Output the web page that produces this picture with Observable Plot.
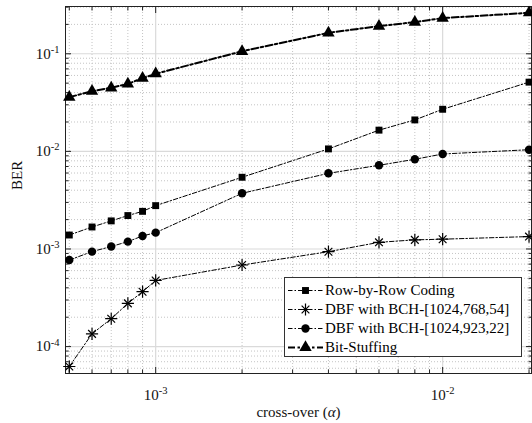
<!DOCTYPE html>
<html><head><meta charset="utf-8">
<script src="https://cdn.jsdelivr.net/npm/d3@7"></script>
<script src="https://cdn.jsdelivr.net/npm/@observablehq/plot@0.6"></script>
<style>
body{margin:0;background:#fff;}
#wrap{position:relative;width:532px;height:423px;font-family:"Liberation Serif","Times New Roman",serif;}
#legend{position:absolute;left:284px;top:277px;width:238px;height:80px;border:1px solid #333;background:#fff;box-sizing:border-box;padding-top:3px;}
.row{display:flex;align-items:center;height:19px;font-size:15px;color:#000;white-space:nowrap;}
.row svg{flex:none;}
</style></head><body><div id="wrap"></div>
<script>
// Data
const alpha = [5e-4, 6e-4, 7e-4, 8e-4, 9e-4, 1e-3, 2e-3, 4e-3, 6e-3, 8e-3, 1e-2, 2e-2];
const rowByRow = [1.39e-3, 1.68e-3, 1.94e-3, 2.2e-3, 2.43e-3, 2.78e-3, 5.43e-3, 1.06e-2, 1.65e-2, 2.1e-2, 2.7e-2, 5.12e-2];
const dbf768 = [6.25e-5, 1.35e-4, 1.93e-4, 2.77e-4, 3.65e-4, 4.76e-4, 6.85e-4, 9.38e-4, 1.17e-3, 1.24e-3, 1.26e-3, 1.34e-3];
const dbf923 = [7.7e-4, 9.4e-4, 1.06e-3, 1.19e-3, 1.36e-3, 1.47e-3, 3.72e-3, 5.96e-3, 7.2e-3, 8.3e-3, 9.4e-3, 1.04e-2];
const bitStuffing = [0.0359, 0.0414, 0.0448, 0.0492, 0.0562, 0.0624, 0.106, 0.164, 0.192, 0.211, 0.232, 0.263];
const seriesNames = ["Row-by-Row Coding", "DBF with BCH-[1024,768,54]", "DBF with BCH-[1024,923,22]", "Bit-Stuffing"];
const xMajor = [1e-3, 1e-2];
const yMajor = [1e-4, 1e-3, 1e-2, 1e-1];
const xMinor = [5e-4, 6e-4, 7e-4, 8e-4, 9e-4, 2e-3, 3e-3, 4e-3, 5e-3, 6e-3, 7e-3, 8e-3, 9e-3, 2e-2];
const yMinor = [6e-5, 7e-5, 8e-5, 9e-5, 2e-4, 3e-4, 4e-4, 5e-4, 6e-4, 7e-4, 8e-4, 9e-4,
  2e-3, 3e-3, 4e-3, 5e-3, 6e-3, 7e-3, 8e-3, 9e-3, 2e-2, 3e-2, 4e-2, 5e-2, 6e-2, 7e-2, 8e-2, 9e-2, 2e-1, 3e-1];

const toRows = (vals) => alpha.map((a, i) => ({a, v: vals[i]}));
const rRow = toRows(rowByRow), r768 = toRows(dbf768), r923 = toRows(dbf923), rBit = toRows(bitStuffing);

const thinDash = "4.5,2,1.5,2";
const thickDash = "7,2.5,2.5,2.5";
const fmt = d => "10^" + Math.round(Math.log10(d));
const noFmt = () => "";

const chart = Plot.plot({
  width: 532, height: 423,
  marginLeft: 65, marginRight: 1, marginTop: 6, marginBottom: 50,
  style: {fontFamily: '"Liberation Serif","Times New Roman",serif', fontSize: "15px", background: "white", color: "black"},
  x: {type: "log", domain: [4.85e-4, 2.04e-2], axis: null},
  y: {type: "log", domain: [5.3e-5, 0.305], axis: null},
  marks: [
    Plot.gridX(xMinor, {stroke: "#c4c4c4", strokeOpacity: 1, strokeDasharray: "1,2"}),
    Plot.gridY(yMinor, {stroke: "#c4c4c4", strokeOpacity: 1, strokeDasharray: "1,2"}),
    Plot.gridX(xMajor, {stroke: "#dadada", strokeOpacity: 1, strokeWidth: 1.2}),
    Plot.gridY(yMajor, {stroke: "#dadada", strokeOpacity: 1, strokeWidth: 1.2}),
    Plot.frame({stroke: "#222"}),
    // inward ticks
    Plot.axisX(xMajor, {anchor: "bottom", tickSize: -6, tickFormat: noFmt, label: null, stroke: "#222"}),
    Plot.axisX(xMinor, {anchor: "bottom", tickSize: -3.5, tickFormat: noFmt, label: null, stroke: "#222"}),
    Plot.axisX(xMajor, {anchor: "top", tickSize: -6, tickFormat: noFmt, label: null, stroke: "#222"}),
    Plot.axisX(xMinor, {anchor: "top", tickSize: -3.5, tickFormat: noFmt, label: null, stroke: "#222"}),
    Plot.axisY(yMajor, {anchor: "left", tickSize: -6, tickFormat: noFmt, label: null, stroke: "#222"}),
    Plot.axisY(yMinor, {anchor: "left", tickSize: -3.5, tickFormat: noFmt, label: null, stroke: "#222"}),
    Plot.axisY(yMajor, {anchor: "right", tickSize: -6, tickFormat: noFmt, label: null, stroke: "#222"}),
    Plot.axisY(yMinor, {anchor: "right", tickSize: -3.5, tickFormat: noFmt, label: null, stroke: "#222"}),
    // tick labels
    Plot.axisX(xMajor, {anchor: "bottom", tickSize: 0, tickPadding: 16, tickFormat: fmt, label: null, fill: "#111"}),
    Plot.axisY(yMajor, {anchor: "left", tickSize: 0, tickPadding: 6, tickFormat: fmt, label: null, fill: "#111"}),
    // axis titles
    Plot.text(["BER"], {frameAnchor: "left", dx: -48, rotate: -90, fontSize: 15, fill: "#111"}),
    Plot.text(["cross-over (@alpha)"], {frameAnchor: "bottom", dy: 43, fontSize: 15, fill: "#111"}),
    // series
    Plot.line(rRow, {x: "a", y: "v", stroke: "black", strokeWidth: 1, strokeDasharray: thinDash}),
    Plot.line(r768, {x: "a", y: "v", stroke: "black", strokeWidth: 1, strokeDasharray: thinDash}),
    Plot.line(r923, {x: "a", y: "v", stroke: "black", strokeWidth: 1, strokeDasharray: thinDash}),
    Plot.line(rBit, {x: "a", y: "v", stroke: "black", strokeWidth: 2, strokeDasharray: thickDash}),
    Plot.dot(rRow, {x: "a", y: "v", symbol: "square", r: 3.9, fill: "black"}),
    Plot.dot(r768, {x: "a", y: "v", symbol: "plus", r: 4, stroke: "black", strokeWidth: 1.2}),
    Plot.dot(r768, {x: "a", y: "v", symbol: "times", r: 3.6, stroke: "black", strokeWidth: 1.2}),
    Plot.dot(r923, {x: "a", y: "v", symbol: "circle", r: 4.2, fill: "black"}),
    Plot.dot(rBit, {x: "a", y: "v", symbol: "triangle", r: 4.6, fill: "black"})
  ]
});

// superscript tick labels and italic alpha
d3.select(chart).selectAll("text").each(function() {
  const t = this.textContent;
  const m = /^10\^(-?\d+)$/.exec(t);
  if (m) {
    const sel = d3.select(this);
    sel.text("");
    sel.append("tspan").text("10");
    sel.append("tspan").attr("dy", "-0.55em").attr("font-size", "10.5px").text(m[1]);
  } else if (t === "cross-over (@alpha)") {
    const sel = d3.select(this);
    sel.text("");
    sel.append("tspan").text("cross-over (");
    sel.append("tspan").attr("font-style", "italic").text("α");
    sel.append("tspan").text(")");
  }
});

const wrap = document.getElementById("wrap");
wrap.appendChild(chart);

// legend
const legend = document.createElement("div");
legend.id = "legend";
const kinds = ["square", "asterisk", "circle", "triangle"];
const sizeFor = r => Math.PI * r * r;
kinds.forEach((k, i) => {
  const row = document.createElement("div");
  row.className = "row";
  const svg = d3.create("svg").attr("width", 40).attr("height", 19);
  svg.append("line").attr("x1", 3).attr("x2", 38).attr("y1", 9.5).attr("y2", 9.5)
    .attr("stroke", "black").attr("stroke-width", k === "triangle" ? 2 : 1)
    .attr("stroke-dasharray", k === "triangle" ? thickDash : thinDash);
  const g = svg.append("g").attr("transform", "translate(20.5,9.5)");
  if (k === "square") g.append("path").attr("d", d3.symbol(d3.symbolSquare, sizeFor(3.9))()).attr("fill", "black");
  if (k === "circle") g.append("path").attr("d", d3.symbol(d3.symbolCircle, sizeFor(4.2))()).attr("fill", "black");
  if (k === "triangle") g.append("path").attr("d", d3.symbol(d3.symbolTriangle, sizeFor(4.6))()).attr("fill", "black");
  if (k === "asterisk") {
    g.append("path").attr("d", d3.symbol(d3.symbolPlus, sizeFor(4))()).attr("fill", "none").attr("stroke", "black").attr("stroke-width", 1.2);
    g.append("path").attr("d", d3.symbol(d3.symbolTimes, sizeFor(3.6))()).attr("fill", "none").attr("stroke", "black").attr("stroke-width", 1.2);
  }
  row.appendChild(svg.node());
  const span = document.createElement("span");
  span.textContent = seriesNames[i];
  row.appendChild(span);
  legend.appendChild(row);
});
wrap.appendChild(legend);
</script>
</body></html>
